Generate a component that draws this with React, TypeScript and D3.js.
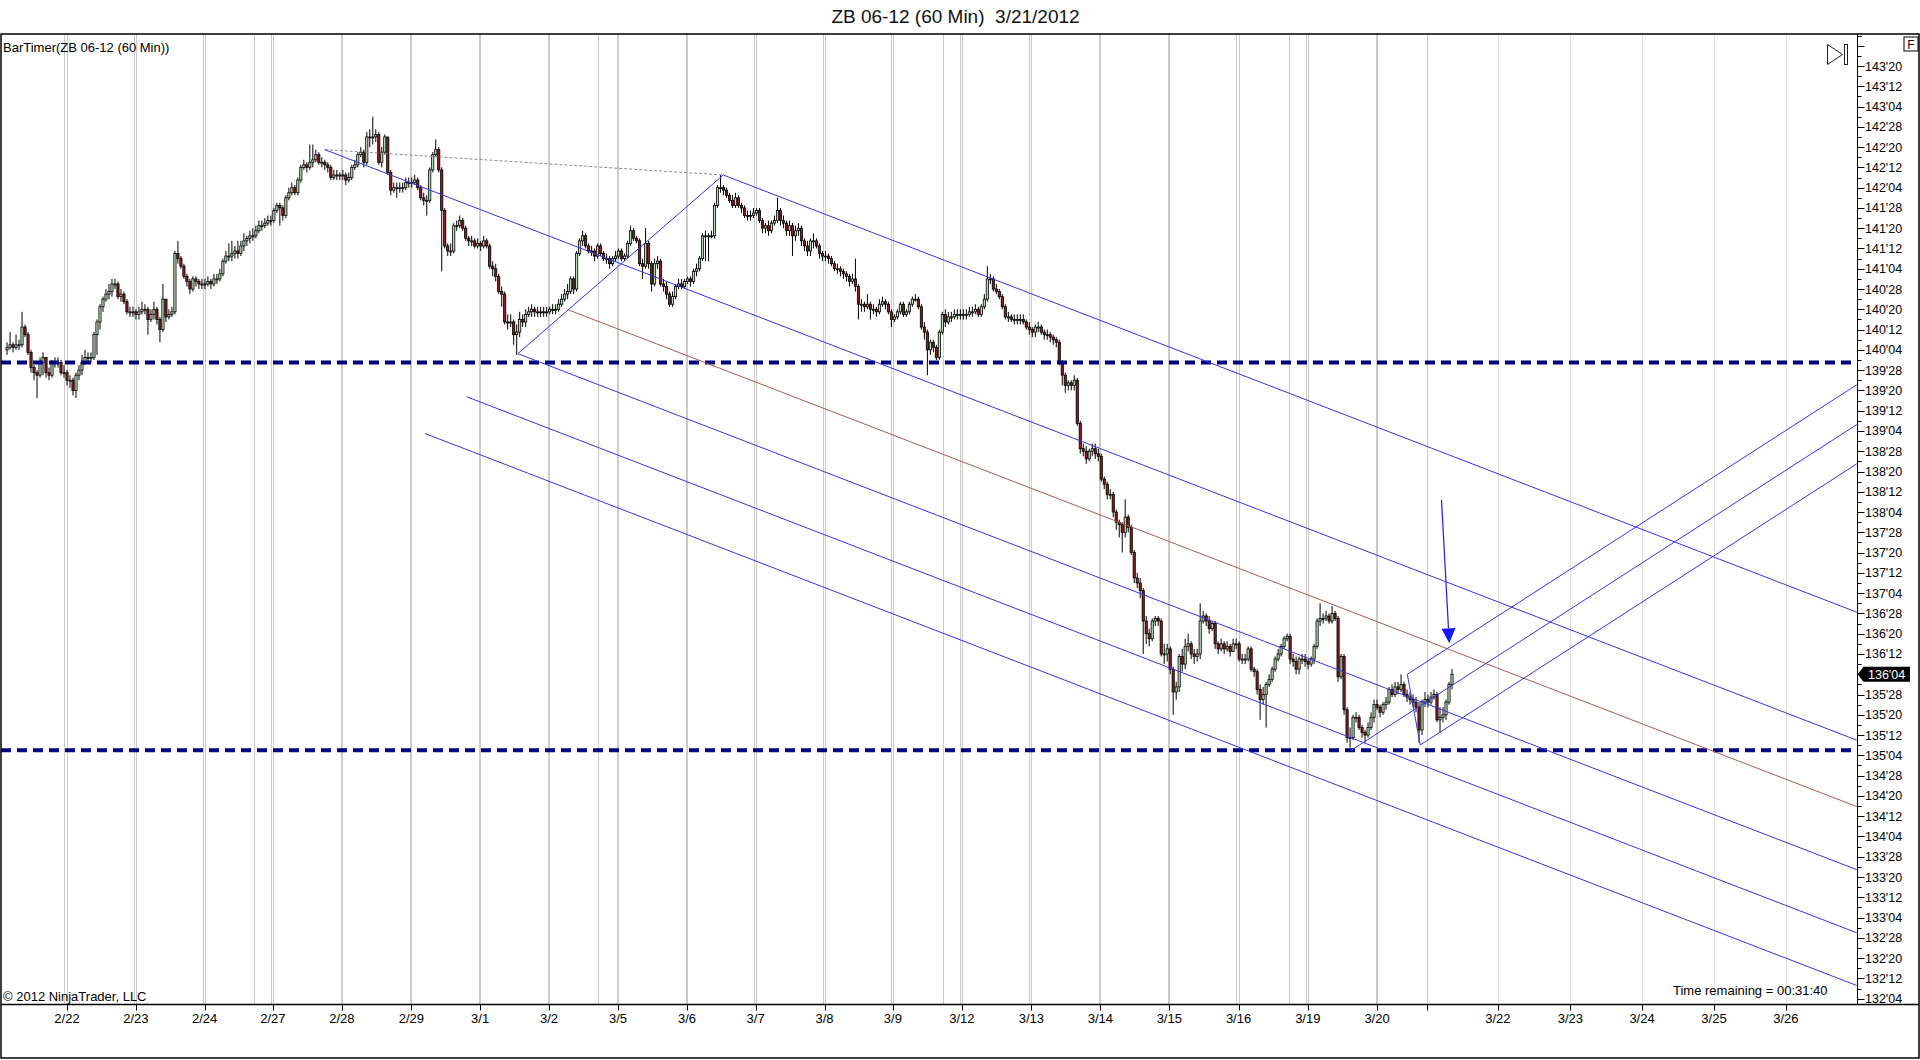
import { useEffect, useRef } from "react"
import * as d3 from "d3"

// ZB 06-12, 60 minute bars. Prices are in 32nds above 130'00 (e.g. 196 = 136'04)
// one row per session, bar 0 = first bar on the chart
const opens = [
  324, 325, 326, 325, 326, 326, 333, 330, 323, 317, 315, 314, 319, 321, 315, 314, 319, 319, 319, 315,
  315, 312, 312, 308, 314, 316, 319, 321, 321, 321, 330, 335, 341, 344, 346, 347, 350, 350, 345, 346, 343, 339, 339,
  339, 338, 339, 340, 340, 336, 338, 340, 336, 332, 344, 337, 338, 339, 362, 360, 357, 353, 351, 348, 352, 351, 350,
  350, 350, 351, 350, 352, 352, 354, 359, 361, 361, 362, 363, 362, 365, 367, 368, 369, 369, 371, 373, 373, 374, 375,
  375, 379, 381, 380, 377, 384, 386, 388, 386, 391, 396, 397, 396, 398, 399, 401, 398, 398, 397, 396, 392, 393, 393,
  393, 393, 391, 392, 396, 397, 401, 402, 398, 408, 408, 408, 409, 398, 402, 408, 394, 387, 388, 388, 388, 388, 390,
  390, 390, 391, 388, 384, 383, 383, 395, 401, 403, 395, 379, 365, 363, 363, 373, 373, 375, 372, 368, 367, 367, 365,
  366, 365, 367, 365, 357, 356, 353, 347, 346, 335, 335, 335, 330, 331, 336, 335, 338, 339, 340, 339, 339, 339, 339,
  339, 340, 340, 340, 342, 344, 346, 347, 352, 348, 362, 367, 369, 365, 363, 363, 361, 365, 362, 360, 360, 358, 360,
  361, 363, 360, 361, 366, 371, 368, 367, 358, 357, 366, 358, 350, 358, 359, 350, 349, 346, 342, 345, 349, 350, 349,
  351, 352, 351, 355, 356, 360, 369, 369, 369, 369, 381, 388, 388, 387, 385, 383, 381, 384, 381, 380, 377, 377, 377,
  378, 379, 375, 372, 373, 371, 374, 375, 379, 375, 374, 371, 373, 369, 371, 372, 367, 365, 363, 367, 367, 365, 362,
  361, 361, 360, 358, 356, 356, 355, 354, 353, 351, 352, 349, 342, 342, 341, 342, 340, 340, 339, 342, 343, 342, 339,
  336, 337, 339, 342, 338, 339, 342, 344, 344, 341, 333, 331, 324, 327, 325, 321, 331, 338, 335, 337, 337, 338, 338,
  338, 338, 338, 339, 339, 340, 338, 341, 344, 352, 352, 348, 347, 345, 341, 337, 337, 336, 336, 336, 336, 335, 333,
  332, 331, 333, 333, 331, 330, 330, 329, 328, 327, 319, 314, 310, 311, 310, 312, 295, 285, 284, 281, 284, 285, 283,
  282, 273, 271, 267, 267, 260, 256, 255, 252, 258, 254, 244, 234, 232, 229, 217, 212, 210, 217, 218, 217, 204, 204,
  206, 198, 189, 191, 203, 200, 207, 208, 204, 203, 204, 217, 219, 217, 214, 216, 208, 206, 208, 206, 207, 205, 208,
  208, 202, 202, 202, 206, 198, 197, 190, 186, 188, 192, 194, 198, 202, 204, 207, 210, 211, 202, 201, 198, 202, 202,
  201, 200, 202, 207, 217, 218, 218, 219, 217, 220, 218, 195, 203, 182, 171, 171, 179, 179, 175, 173, 172, 175, 179,
  184, 183, 181, 184, 185, 190, 188, 191, 190, 192, 188, 187, 186, 185, 183, 174, 185, 186, 185, 187, 188, 178, 179, 180, 185, 192,
]
const highs = [
  327, 331, 327, 330, 328, 339, 334, 331, 324, 318, 316, 321, 323, 321, 317, 320, 321, 321, 320, 318,
  316, 314, 313, 315, 318, 322, 324, 323, 323, 331, 336, 342, 345, 348, 350, 352, 352, 351, 348, 347, 344, 341, 341,
  340, 341, 343, 342, 341, 340, 343, 341, 337, 350, 344, 340, 341, 363, 367, 361, 358, 354, 352, 353, 353, 352, 352,
  352, 353, 352, 354, 354, 356, 360, 363, 366, 367, 365, 367, 367, 370, 369, 371, 372, 373, 375, 375, 376, 377, 377,
  380, 382, 382, 381, 385, 388, 390, 389, 392, 397, 399, 398, 405, 405, 403, 402, 400, 399, 398, 397, 395, 395, 394,
  395, 394, 394, 397, 399, 402, 404, 403, 410, 411, 416, 411, 410, 404, 409, 408, 395, 390, 390, 390, 390, 392, 392,
  392, 393, 392, 389, 386, 385, 396, 402, 407, 404, 396, 380, 366, 366, 374, 375, 377, 376, 373, 369, 369, 368, 368,
  367, 369, 368, 366, 359, 358, 354, 349, 347, 338, 338, 336, 334, 339, 338, 340, 341, 342, 341, 341, 341, 341, 341,
  341, 342, 342, 344, 346, 348, 350, 353, 353, 363, 368, 371, 370, 366, 365, 364, 366, 366, 363, 362, 361, 361, 363,
  364, 364, 362, 367, 373, 372, 369, 368, 360, 372, 367, 359, 360, 361, 360, 352, 351, 347, 347, 350, 352, 352, 352,
  353, 353, 356, 358, 361, 370, 371, 370, 371, 382, 389, 393, 389, 388, 386, 385, 386, 385, 382, 381, 379, 379, 380,
  380, 380, 376, 374, 375, 375, 377, 384, 380, 377, 375, 375, 374, 373, 374, 373, 368, 367, 368, 370, 368, 366, 363,
  363, 362, 361, 359, 358, 357, 356, 355, 354, 354, 360, 350, 344, 343, 346, 343, 342, 341, 344, 345, 344, 343, 340,
  338, 340, 343, 343, 340, 343, 345, 346, 345, 342, 335, 332, 328, 328, 326, 332, 339, 340, 339, 339, 340, 340, 340,
  340, 340, 341, 341, 342, 341, 342, 346, 357, 354, 353, 350, 348, 346, 342, 339, 338, 338, 338, 338, 338, 336, 335,
  333, 334, 335, 334, 332, 332, 331, 330, 329, 328, 320, 315, 312, 312, 314, 313, 296, 287, 286, 285, 287, 287, 285,
  283, 274, 272, 269, 268, 261, 257, 256, 265, 259, 255, 245, 236, 234, 230, 219, 214, 218, 219, 219, 218, 208, 208,
  207, 199, 193, 204, 206, 210, 212, 209, 206, 206, 224, 221, 220, 219, 217, 217, 209, 210, 209, 209, 208, 210, 210,
  209, 204, 204, 207, 207, 199, 198, 192, 191, 193, 196, 199, 203, 206, 208, 211, 212, 212, 204, 203, 203, 204, 204,
  202, 203, 208, 218, 224, 220, 221, 220, 223, 221, 219, 204, 204, 183, 175, 180, 181, 180, 176, 174, 177, 181, 186,
  186, 184, 185, 187, 191, 192, 193, 193, 196, 193, 190, 189, 188, 187, 185, 186, 189, 188, 189, 190, 189, 183, 183, 186, 193, 198,
]
const lows = [
  322, 324, 323, 324, 324, 325, 329, 322, 315, 312, 305, 313, 314, 313, 312, 313, 317, 317, 314, 313,
  310, 309, 306, 305, 312, 314, 318, 319, 319, 320, 322, 332, 339, 343, 344, 345, 348, 344, 343, 342, 338, 337, 337,
  336, 336, 338, 338, 330, 335, 336, 334, 327, 331, 335, 336, 337, 338, 358, 356, 352, 349, 346, 347, 349, 348, 348,
  348, 349, 348, 349, 350, 351, 353, 358, 359, 359, 360, 360, 361, 363, 365, 366, 367, 368, 370, 371, 372, 373, 373,
  374, 378, 373, 375, 376, 383, 385, 385, 385, 390, 395, 394, 395, 396, 398, 397, 396, 395, 394, 391, 391, 391, 391,
  391, 389, 390, 391, 395, 396, 400, 396, 397, 404, 405, 406, 397, 396, 401, 393, 385, 386, 384, 386, 386, 387, 388,
  388, 389, 387, 383, 381, 377, 382, 394, 400, 394, 355, 364, 361, 361, 362, 371, 372, 371, 367, 365, 365, 364, 364,
  363, 364, 364, 356, 353, 351, 346, 341, 334, 332, 333, 326, 322, 329, 333, 333, 337, 337, 337, 337, 337, 337, 337,
  338, 338, 338, 339, 341, 343, 344, 346, 346, 347, 361, 365, 364, 362, 361, 359, 360, 361, 359, 358, 356, 357, 359,
  360, 359, 359, 360, 365, 367, 366, 357, 352, 356, 356, 347, 349, 356, 349, 347, 344, 341, 341, 344, 348, 348, 348,
  350, 349, 350, 353, 355, 359, 359, 359, 368, 368, 380, 386, 385, 384, 382, 380, 380, 380, 378, 376, 375, 375, 376,
  377, 374, 370, 370, 369, 370, 373, 374, 373, 372, 369, 369, 361, 367, 369, 365, 363, 361, 361, 364, 364, 360, 359,
  359, 358, 357, 355, 354, 353, 352, 351, 349, 350, 347, 336, 339, 339, 340, 336, 338, 337, 338, 341, 340, 338, 333,
  335, 336, 338, 337, 337, 338, 341, 343, 340, 332, 328, 314, 322, 323, 320, 320, 330, 333, 334, 335, 336, 336, 336,
  336, 336, 337, 337, 338, 337, 337, 340, 343, 350, 347, 346, 344, 340, 336, 335, 335, 334, 334, 334, 334, 332, 330,
  329, 329, 331, 330, 328, 328, 327, 326, 325, 318, 310, 307, 308, 308, 308, 294, 283, 282, 279, 280, 282, 281, 280,
  272, 269, 265, 265, 258, 253, 250, 244, 250, 252, 243, 232, 230, 226, 204, 208, 207, 209, 215, 215, 203, 200, 201,
  196, 180, 186, 189, 197, 198, 205, 202, 200, 201, 202, 216, 215, 212, 213, 206, 204, 205, 204, 205, 203, 205, 206,
  201, 200, 200, 201, 197, 195, 188, 178, 184, 175, 191, 193, 197, 201, 203, 206, 209, 200, 199, 196, 196, 200, 199,
  198, 199, 200, 206, 215, 216, 217, 216, 216, 217, 193, 194, 180, 169, 167, 170, 177, 174, 171, 169, 171, 174, 177,
  182, 179, 180, 182, 184, 187, 187, 188, 189, 187, 185, 184, 183, 181, 169, 172, 183, 183, 184, 186, 177, 173, 177, 178, 184, 190,
]
const closes = [
  325, 326, 325, 326, 326, 333, 330, 323, 317, 315, 314, 319, 321, 315, 314, 319, 319, 319, 315, 315,
  312, 312, 308, 314, 316, 319, 321, 321, 321, 330, 335, 341, 344, 346, 347, 350, 350, 345, 346, 343, 339, 339, 339,
  338, 339, 340, 340, 336, 338, 340, 336, 332, 344, 337, 338, 339, 362, 360, 357, 353, 351, 348, 352, 351, 350, 350,
  350, 351, 350, 352, 352, 354, 359, 361, 361, 362, 363, 362, 365, 367, 368, 369, 369, 371, 373, 373, 374, 375, 375,
  379, 381, 380, 377, 384, 386, 388, 386, 391, 396, 397, 396, 398, 399, 401, 398, 398, 397, 396, 392, 393, 393, 393,
  393, 391, 392, 396, 397, 401, 402, 398, 408, 408, 408, 409, 398, 402, 408, 394, 387, 388, 388, 388, 388, 390, 390,
  390, 391, 388, 384, 383, 383, 395, 401, 403, 395, 379, 365, 363, 363, 373, 373, 375, 372, 368, 367, 367, 365, 366,
  365, 367, 365, 357, 356, 353, 347, 346, 335, 335, 335, 330, 331, 336, 335, 338, 339, 340, 339, 339, 339, 339, 339,
  340, 340, 340, 342, 344, 346, 347, 352, 348, 362, 367, 369, 365, 363, 363, 361, 365, 362, 360, 360, 358, 360, 361,
  363, 360, 361, 366, 371, 368, 367, 358, 357, 366, 358, 350, 358, 359, 350, 349, 346, 342, 345, 349, 350, 349, 351,
  352, 351, 355, 356, 360, 369, 369, 369, 369, 381, 388, 388, 387, 385, 383, 381, 384, 381, 380, 377, 377, 377, 378,
  379, 375, 372, 373, 371, 374, 375, 379, 375, 374, 371, 373, 369, 371, 372, 367, 365, 363, 367, 367, 365, 362, 361,
  361, 360, 358, 356, 356, 355, 354, 353, 351, 352, 349, 342, 342, 341, 342, 340, 340, 339, 342, 343, 342, 339, 336,
  337, 339, 342, 338, 339, 342, 344, 344, 341, 333, 331, 324, 327, 325, 321, 331, 338, 335, 337, 337, 338, 338, 338,
  338, 338, 339, 339, 340, 338, 341, 344, 352, 352, 348, 347, 345, 341, 337, 337, 336, 336, 336, 336, 335, 333, 332,
  331, 333, 333, 331, 330, 330, 329, 328, 327, 319, 314, 310, 311, 310, 312, 295, 285, 284, 281, 284, 285, 283, 282,
  273, 271, 267, 267, 260, 256, 255, 252, 258, 254, 244, 234, 232, 229, 217, 212, 210, 217, 218, 217, 204, 204, 206,
  198, 189, 191, 203, 200, 207, 208, 204, 203, 204, 217, 219, 217, 214, 216, 208, 206, 208, 206, 207, 205, 208, 208,
  202, 202, 202, 206, 198, 197, 190, 186, 188, 192, 194, 198, 202, 204, 207, 210, 211, 202, 201, 198, 202, 202, 201,
  200, 202, 207, 217, 218, 218, 219, 217, 220, 218, 195, 203, 182, 171, 171, 179, 179, 175, 173, 172, 175, 179, 184,
  183, 181, 184, 185, 190, 188, 191, 190, 192, 188, 187, 186, 185, 183, 174, 185, 186, 185, 187, 188, 178, 179, 180, 185, 192, 196,
]

// date axis: bar position of each day label (3/21 has a tick but no label)
const dayLabels = [
  "2/22", "2/23", "2/24", "2/27", "2/28", "2/29", "3/1", "3/2", "3/5", "3/6", "3/7", "3/8", "3/9",
  "3/12", "3/13", "3/14", "3/15", "3/16", "3/19", "3/20", "", "3/22", "3/23", "3/24", "3/25", "3/26",
]
const dayBars = [
  20, 43, 65.9, 88.7, 111.7, 134.9, 157.8, 180.8, 203.8, 226.8, 249.7, 272.7, 295.5,
  318.5, 341.7, 364.7, 387.7, 410.8, 433.9, 457, 473.8, 497.3, 521.5, 545.4, 569.4, 593.4,
]
const sessionBreaks = [
  19.1, 42.4, 65.2, 82.4, 88.1, 111.4, 134.4, 157.3, 180.3, 197.2, 203.4, 226.4, 249.3, 272.3,
  294.9, 312.3, 317.9, 341, 364.1, 387.1, 410.1, 427.7, 433.3, 456.5,
]

// drawing objects: [bar, price, bar, price]
const downFork = [
  [238.9, 393, 617, 220.5],
  [106, 403, 617, 170],
  [170.4, 322.5, 617, 118.9],
  [153.3, 305.5, 617, 94],
  [139.4, 291, 617, 73.2],
  [170.4, 322.5, 238.9, 393],
]
const medianLine = [187.4, 339.7, 617, 143.8]
const swingLine = [106, 403, 238.9, 393]
const upFork = [
  [467.1, 196, 471.4, 168.1],
  [467.1, 196, 617, 310.2],
  [448, 165.7, 617, 294.5],
  [471.4, 168.1, 617, 279],
]
const arrowLine = [478.5, 264.8, 481.1, 208.2]
const levels = [319, 166]
const lastPrice = 196

const fmt = (t: number) => `${130 + Math.floor(t / 32)}'${String(t % 32).padStart(2, "0")}`

const App = () => {
  const svgRef = useRef<SVGSVGElement>(null)

  useEffect(() => {
    const svg = d3.select(svgRef.current)
    svg.selectAll("*").remove()

    const W = 1920
    const H = 1060
    const plot = { left: 1, right: 1857.5, top: 34, bottom: 1004.5 }
    const font = "'Liberation Sans', Arial, sans-serif"

    const x = d3.scaleLinear().domain([-2.35, 617.1]).range([0, 1857])
    const y = d3.scaleLinear().domain([68, 436]).range([998.65, 66])

    svg.append("rect").attr("width", W).attr("height", H).attr("fill", "#fff")

    svg.append("defs").append("clipPath").attr("id", "plotClip")
      .append("rect")
      .attr("x", plot.left).attr("y", plot.top)
      .attr("width", plot.right - plot.left).attr("height", plot.bottom - plot.top)

    // title
    svg.append("text")
      .attr("x", 955.5).attr("y", 22.5)
      .attr("text-anchor", "middle")
      .attr("font-family", font).attr("font-size", 19)
      .attr("fill", "#111")
      .style("white-space", "pre")
      .text("ZB 06-12 (60 Min)  3/21/2012")

    const g = svg.append("g").attr("clip-path", "url(#plotClip)")

    // vertical grid / session lines
    const px = (v: number) => Math.round(x(v)) + 0.5
    g.selectAll("line.sess").data(sessionBreaks).join("line")
      .attr("x1", px).attr("x2", px)
      .attr("y1", plot.top).attr("y2", plot.bottom)
      .attr("stroke", "#cbcbcb").attr("stroke-width", 1)
    g.selectAll("line.day").data(dayBars).join("line")
      .attr("x1", px).attr("x2", px)
      .attr("y1", plot.top).attr("y2", plot.bottom)
      .attr("stroke", (d) => (d > 480 ? "#e2e2e2" : "#cbcbcb")).attr("stroke-width", 1)

    // candles
    const bars = closes.map((c, i) => ({ i, o: opens[i], h: highs[i], l: lows[i], c }))
    g.append("g").selectAll("line").data(bars).join("line")
      .attr("x1", (d) => x(d.i)).attr("x2", (d) => x(d.i))
      .attr("y1", (d) => y(Math.max(d.h, d.o, d.c)))
      .attr("y2", (d) => y(Math.min(d.l, d.o, d.c)))
      .attr("stroke", "#000").attr("stroke-width", 1)
    g.append("g").selectAll("rect").data(bars).join("rect")
      .attr("x", (d) => x(d.i) - 1.1)
      .attr("width", 2.2)
      .attr("y", (d) => y(Math.max(d.o, d.c)))
      .attr("height", (d) => Math.max(1, Math.abs(y(d.o) - y(d.c))))
      .attr("fill", (d) => (d.c >= d.o ? "#b8e0b8" : "#8e1c1c"))
      .attr("stroke", "#000").attr("stroke-width", 0.8)

    // horizontal levels
    g.selectAll("line.level").data(levels).join("line")
      .attr("x1", plot.left).attr("x2", plot.right)
      .attr("y1", (d) => y(d)).attr("y2", (d) => y(d))
      .attr("stroke", "#00007e").attr("stroke-width", 4)
      .attr("stroke-dasharray", "10,6")

    // pitchforks
    const seg = (sel: any, data: number[][], color: string, width = 1, dash = "") =>
      sel.selectAll(null).data(data).join("line")
        .attr("x1", (d: number[]) => x(d[0])).attr("y1", (d: number[]) => y(d[1]))
        .attr("x2", (d: number[]) => x(d[2])).attr("y2", (d: number[]) => y(d[3]))
        .attr("stroke", color).attr("stroke-width", width)
        .attr("stroke-dasharray", dash || null)

    seg(g, [swingLine], "#8a8a8a", 1, "3,2")
    seg(g, downFork, "#3434e6")
    seg(g, [medianLine], "#a85a52")
    seg(g, upFork, "#3434e6")

    // arrow
    const ax1 = x(arrowLine[0]), ay1 = y(arrowLine[1])
    const ax2 = x(arrowLine[2]), ay2 = y(arrowLine[3])
    const len = Math.hypot(ax2 - ax1, ay2 - ay1)
    const ux = (ax2 - ax1) / len, uy = (ay2 - ay1) / len
    const bx = ax2 - ux * 15, by = ay2 - uy * 15
    g.append("line")
      .attr("x1", ax1).attr("y1", ay1).attr("x2", bx).attr("y2", by)
      .attr("stroke", "#1e1ef0").attr("stroke-width", 1.2)
    g.append("path")
      .attr("d", `M${ax2},${ay2}L${bx - uy * 7},${by + ux * 7}L${bx + uy * 7},${by - ux * 7}Z`)
      .attr("fill", "#1515ff")

    // frame
    svg.append("rect")
      .attr("x", 1).attr("y", 34).attr("width", 1918).attr("height", 1024)
      .attr("fill", "none").attr("stroke", "#000").attr("stroke-width", 1.5)
    svg.append("line")
      .attr("x1", 1).attr("x2", 1919).attr("y1", plot.bottom).attr("y2", plot.bottom)
      .attr("stroke", "#000").attr("stroke-width", 1.3)
    svg.append("line")
      .attr("x1", plot.right).attr("x2", plot.right).attr("y1", plot.top).attr("y2", plot.bottom)
      .attr("stroke", "#000").attr("stroke-width", 1)

    // price axis
    const priceTicks = d3.range(68, 449, 4)
    svg.append("g").selectAll("line").data(priceTicks).join("line")
      .attr("x1", plot.right)
      .attr("x2", (d) => plot.right + ((d - 68) % 8 === 0 ? 7 : 4))
      .attr("y1", (d) => Math.round(y(d)) + 0.5).attr("y2", (d) => Math.round(y(d)) + 0.5)
      .attr("stroke", "#000").attr("stroke-width", 1)
    svg.append("g").selectAll("text").data(priceTicks.filter((d) => (d - 68) % 8 === 0 && d <= 436)).join("text")
      .attr("x", 1865).attr("y", (d) => y(d))
      .attr("dy", "0.36em")
      .attr("font-family", font).attr("font-size", 12.5).attr("fill", "#000")
      .text(fmt)

    // last price marker
    const ly = y(lastPrice)
    svg.append("path")
      .attr("d", `M${plot.right},${ly}L${plot.right + 6},${ly - 7.5}H1910V${ly + 7.5}H${plot.right + 6}Z`)
      .attr("fill", "#000")
    svg.append("text")
      .attr("x", 1868).attr("y", ly).attr("dy", "0.36em")
      .attr("font-family", font).attr("font-size", 12.5).attr("fill", "#fff")
      .text(fmt(lastPrice))

    // date axis
    svg.append("g").selectAll("line").data(dayBars).join("line")
      .attr("x1", px).attr("x2", px)
      .attr("y1", plot.bottom).attr("y2", plot.bottom + 6)
      .attr("stroke", "#000")
    svg.append("g").selectAll("text").data(dayBars).join("text")
      .attr("x", (d) => x(d)).attr("y", 1023)
      .attr("text-anchor", "middle")
      .attr("font-family", font).attr("font-size", 13).attr("fill", "#000")
      .text((_d, i) => dayLabels[i])

    // labels inside the panel
    const label = (tx: number, ty: number, s: string) =>
      svg.append("text").attr("x", tx).attr("y", ty)
        .attr("font-family", font).attr("font-size", 13).attr("fill", "#000").text(s)
    label(3, 52, "BarTimer(ZB 06-12 (60 Min))")
    label(3, 1001, "\u00a9 2012 NinjaTrader, LLC")
    label(1673, 995, "Time remaining = 00:31:40")

    // toolbar glyphs
    svg.append("rect")
      .attr("x", 1904).attr("y", 37).attr("width", 14).attr("height", 14)
      .attr("fill", "#fff").attr("stroke", "#000").attr("stroke-width", 1)
    svg.append("text")
      .attr("x", 1911).attr("y", 48.5).attr("text-anchor", "middle")
      .attr("font-family", font).attr("font-size", 12).text("F")
    svg.append("path")
      .attr("d", "M1827.5,44.5L1842.5,54.5L1827.5,64.5Z")
      .attr("fill", "none").attr("stroke", "#222").attr("stroke-width", 1)
    svg.append("rect")
      .attr("x", 1844.5).attr("y", 44.5).attr("width", 3).attr("height", 20)
      .attr("fill", "none").attr("stroke", "#222").attr("stroke-width", 1)
  }, [])

  return (
    <svg
      ref={svgRef}
      width={1920}
      height={1060}
      style={{ position: "absolute", left: 0, top: 0, display: "block" }}
    ></svg>
  )
}

export default App
